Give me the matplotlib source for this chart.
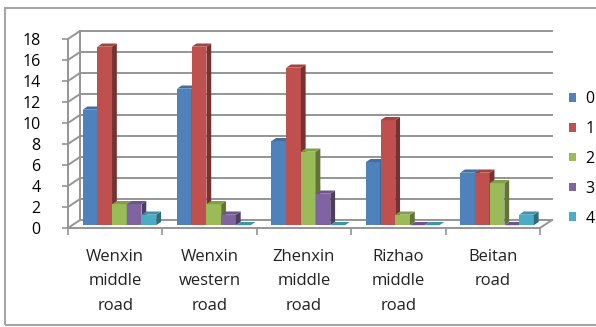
import numpy as np
import matplotlib
matplotlib.use("Agg")
import matplotlib.pyplot as plt
from matplotlib.patches import Polygon, Rectangle, Patch
from matplotlib.colors import to_rgb

roads = ["Wenxin\nmiddle\nroad", "Wenxin\nwestern\nroad", "Zhenxin\nmiddle\nroad",
         "Rizhao\nmiddle\nroad", "Beitan\nroad"]
series = ["0", "1", "2", "3", "4"]
s0 = [11, 13, 8, 6, 5]
s1 = [17, 17, 15, 10, 5]
s2 = [2, 2, 7, 1, 4]
s3 = [2, 1, 3, 0, 0]
s4 = [1, 0, 0, 0, 1]
yticks = list(range(0, 19, 2))

colors = ["#4F81BD", "#C0504D", "#9BBB59", "#8064A2", "#4BACC6"]

plt.rcParams['font.family'] = ['Open Sans', 'DejaVu Sans']

W, H = 596, 327
fig = plt.figure(figsize=(W / 100, H / 100), dpi=100)
# front plane of the 3d box, in pixels
left, right, bottom, top = 68, 540, 228, 39
ax = fig.add_axes([left / W, (H - bottom) / H, (right - left) / W, (bottom - top) / H])
ncat = len(roads)
ax.set_xlim(0, ncat)
ax.set_ylim(0, 18)

# pixel -> data unit helpers for the depth offsets
ux = ncat / (right - left)
uy = 18 / (bottom - top)
DX, DY = 12 * ux, 8 * uy

grid_kw = dict(color="#959595", lw=1.4, clip_on=False, zorder=1)
for v in yticks:
    ax.plot([DX, ncat + DX], [v + DY, v + DY], **grid_kw)
    ax.plot([0, DX], [v, v + DY], **grid_kw)
ax.plot([DX, DX], [DY, 18 + DY], **grid_kw)
ax.plot([0, ncat], [0, 0], **grid_kw)
ax.plot([ncat, ncat + DX], [0, DY], **grid_kw)


def shade(c, k):
    r, g, b = to_rgb(c)
    return (r * k, g * k, b * k)


# bars: front face + right side + top
bw = 0.156
gap = (1 - bw * len(series)) / 2
ox0, oy0 = 4.2 * ux, 2.8 * uy
ox1, oy1 = 9.0 * ux, 6.0 * uy
data = [s0, s1, s2, s3, s4]
for i in range(ncat):
    for j, vals in enumerate(data):
        v = vals[i]
        x0 = i + gap + j * bw + ox0
        c = colors[j]
        if v > 0:
            ax.bar(x0, v, width=bw, bottom=oy0, align="edge", color=c,
                   linewidth=0, clip_on=False, zorder=3)
            ax.add_patch(Polygon([(x0 + bw, oy0), (x0 + bw + ox1 - ox0, oy1),
                                  (x0 + bw + ox1 - ox0, v + oy1), (x0 + bw, v + oy0)],
                                 closed=True, facecolor=shade(c, 0.62), lw=0,
                                 clip_on=False, zorder=3))
        ax.add_patch(Polygon([(x0, v + oy0), (x0 + bw, v + oy0),
                              (x0 + bw + ox1 - ox0, v + oy1), (x0 + ox1 - ox0, v + oy1)],
                             closed=True, facecolor=shade(c, 0.85), lw=0,
                             clip_on=False, zorder=3))

for s in ["top", "right", "bottom"]:
    ax.spines[s].set_visible(False)
ax.spines["left"].set_color("#959595")
ax.spines["left"].set_linewidth(1.4)

ax.set_yticks(yticks)
ax.tick_params(axis="y", length=4.3, width=1.2, color="#959595", pad=15.5,
               labelsize=11.5, labelcolor="black")
ax.set_xticks(np.arange(ncat) + 0.5)
ax.set_xticklabels(roads, linespacing=1.72)
ax.set_xticks(np.arange(ncat + 1), minor=True)
ax.tick_params(axis="x", which="major", length=0, pad=15, labelsize=12,
               labelcolor="#222222")
ax.tick_params(axis="x", which="minor", length=5, width=1.2, color="#959595")

handles = [Patch(facecolor=c, edgecolor="none") for c in colors]
fig.legend(handles, series, loc="upper left", bbox_to_anchor=(561 / W, (H - 83) / H),
           frameon=False, fontsize=11.5, handlelength=0.47, handleheight=0.47,
           handletextpad=0.55, labelspacing=0.87, borderpad=0)

fig.add_artist(Rectangle((5 / W, 2 / H), (W + 10) / W, (H - 10) / H,
                         transform=fig.transFigure, fill=False,
                         edgecolor="#a6a6a6", lw=1.5))

fig.savefig("out.png", dpi=100)
